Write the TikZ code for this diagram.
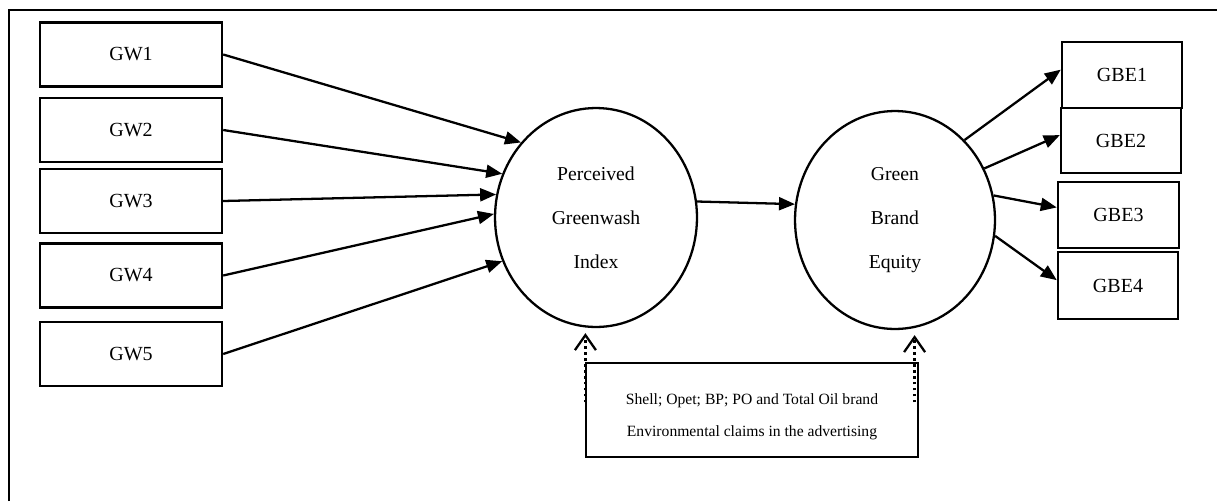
\documentclass[tikz,border=0pt]{standalone}
\usepackage{fontspec}
\setmainfont{Liberation Serif}
\usetikzlibrary{arrows.meta, shapes.geometric}

\begin{document}
\begin{tikzpicture}[
    x=0.02cm, y=-0.02cm,
    box/.style={draw, line width=1.4pt, minimum width=3.64cm, minimum height=1.28cm, inner sep=0pt, font=\fontsize{11.4}{13}\selectfont},
    gbebox/.style={box, minimum width=2.4cm, minimum height=1.32cm},
    latent/.style={draw, ellipse, line width=1.3pt, minimum width=4.04cm, minimum height=4.38cm, inner sep=0pt, align=center, font=\fontsize{11.2}{25}\selectfont},
    arrow/.style={-{Triangle[length=0.32cm, width=0.26cm]}, line width=1.3pt},
    dotarrow/.style={dotted, line width=1.4pt, shorten >=0.1cm, -{Straight Barb[length=0.3cm, width=0.42cm, line width=1.3pt]}}
]
\useasboundingbox (0,0) rectangle (1217,501);

% Frame
\draw[line width=1.3pt] (9,501) -- (9,10) -- (1217,10);

% Nodes
\node[box] (gw1) at (131,54.5) {GW1};
\node[box] (gw2) at (131,130) {GW2};
\node[box] (gw3) at (131,201) {GW3};
\node[box] (gw4) at (131,275.5) {GW4};
\node[box] (gw5) at (131,354) {GW5};

\node[latent] (pgi) at (596,217.5) {Perceived\\Greenwash\\Index};
\node[latent, minimum width=4cm, minimum height=4.36cm] (gbe) at (895,220) {Green\\Brand\\Equity};

\node[gbebox] (gbe1) at (1122,75) {GBE1};
\node[gbebox, minimum height=1.3cm] (gbe2) at (1121,140.5) {GBE2};
\node[gbebox, minimum width=2.42cm] (gbe3) at (1118.5,215) {GBE3};
\node[gbebox, minimum height=1.34cm] (gbe4) at (1118,285.5) {GBE4};

\node[draw, line width=0.7pt, minimum width=6.64cm, minimum height=1.88cm] (brands) at (752,410) {};
\node[align=center, font=\fontsize{8.9}{18.1}\selectfont] (claims) at (752,417)
      {Shell; Opet; BP; PO and Total Oil brand\\Environmental claims in the advertising};

\coordinate (d1) at ([yshift=-0.8cm]brands.north west);
\coordinate (d2) at ([xshift=-0.08cm, yshift=-0.8cm]brands.north east);

% Arrows
\draw[arrow] (gw1.east) -- (pgi.135);
\draw[arrow] (gw2.east) -- (pgi.155);
\draw[arrow] (gw3.east) -- (pgi.167);
\draw[arrow] (gw4.east) -- (pgi.178);
\draw[arrow] (gw5.east) -- (pgi.205);

\draw[arrow] (pgi.9) -- (gbe.171);

\draw[arrow] (gbe.49) -- (gbe1.175);
\draw[arrow] (gbe.30) -- (gbe2.175);
\draw[arrow] (gbe.14) -- (gbe3.173);
\draw[arrow] (gbe.-9) -- (gbe4.175);

\draw[dotarrow] (d1) -- (d1 |- pgi.south);
\draw[dotarrow] (d2) -- (d2 |- gbe.south);

\end{tikzpicture}
\end{document}
